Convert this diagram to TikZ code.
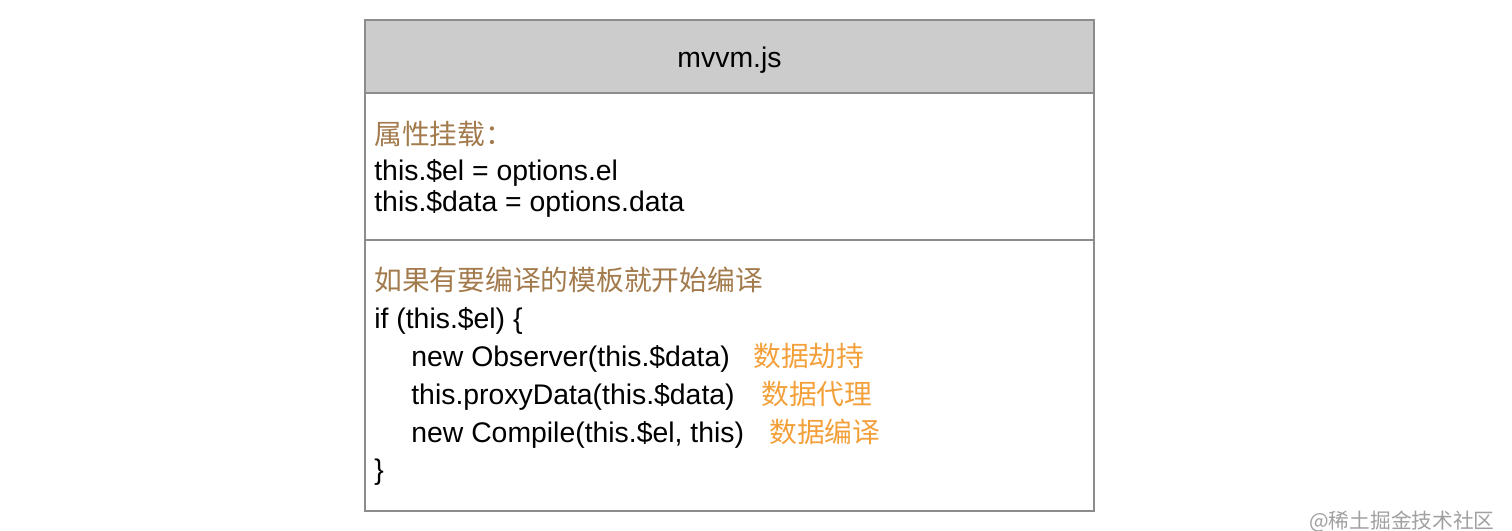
\documentclass[tikz,border=0pt]{standalone}
\usepackage{fontspec}
\setmainfont{Liberation Sans}
\newfontfamily\cjk{Noto Sans CJK SC}
\usetikzlibrary{positioning}
\definecolor{headgray}{HTML}{CCCCCC}
\definecolor{framegray}{HTML}{8C8C8C}
\definecolor{notebrown}{HTML}{A27A4C}
\definecolor{noteorange}{HTML}{F3A03A}
\definecolor{markgray}{HTML}{A0A0A0}

\begin{document}
\begin{tikzpicture}[
    x=0.02cm, y=-0.02cm,
    section/.style={draw=framegray, line width=0.75pt},
    codeline/.style={anchor=west, inner sep=0pt, text height=0.75em, text depth=0.25em, font=\fontsize{16.15}{19}\selectfont},
    brownnote/.style={codeline, text=notebrown, font=\fontsize{15.8}{19}\selectfont\cjk},
    orangenote/.style={codeline, text=noteorange, font=\fontsize{15.8}{19}\selectfont\cjk},
]
\useasboundingbox (0,0) rectangle (1512,531);

% Class box
\draw[section, fill=headgray] (365,20) rectangle (1094,93);
\draw[section] (365,93) rectangle (1094,240);
\draw[section] (365,240) rectangle (1094,511);

% Header
\node[codeline, anchor=center] (title) at (729.5,63) {mvvm.js};

% Attributes
\node[brownnote] (attrnote) at (374,140) {属性挂载：};
\node[codeline] (elline) at (374,176) {this.\$el = options.el};
\node[codeline] (dataline) at (374,207) {this.\$data = options.data};

% Compile part
\node[brownnote] (compnote) at (374,286) {如果有要编译的模板就开始编译};
\node[codeline] (ifline) at (374,324) {if (this.\$el) \{};
\node[codeline] (obsline) at (411,362) {new Observer(this.\$data)};
\node[orangenote] (obsnote) at (753,362) {数据劫持};
\node[codeline] (proxyline) at (411,400) {this.proxyData(this.\$data)};
\node[orangenote] (proxynote) at (761,400) {数据代理};
\node[codeline] (compline) at (411,438) {new Compile(this.\$el, this)};
\node[orangenote] (compnote2) at (769,438) {数据编译};
\node[codeline] (closeline) at (374,475) {\}};

% Watermark
\node[anchor=east, inner sep=0pt, text=markgray, font=\fontsize{11.8}{14}\selectfont\cjk] (mark) at (1495,521) {@稀土掘金技术社区};

\end{tikzpicture}
\end{document}
